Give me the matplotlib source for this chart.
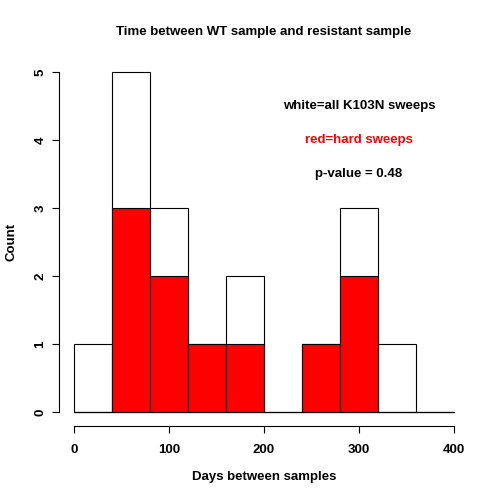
import matplotlib
matplotlib.use("Agg")
import matplotlib.pyplot as plt
import numpy as np

plt.rcParams['font.family'] = ['Liberation Sans', 'DejaVu Sans']

# bins of 40 days
bin_edges = [0, 40, 80, 120, 160, 200, 240, 280, 320, 360, 400]
all_counts = [1, 5, 3, 1, 2, 0, 1, 3, 1, 0]   # white = all K103N sweeps
hard_counts = [0, 3, 2, 1, 1, 0, 1, 2, 0, 0]  # red = hard sweeps
y_ticks = [0, 1, 2, 3, 4, 5]
x_ticks = [0, 100, 200, 300, 400]

fig = plt.figure(figsize=(5, 5), dpi=100)
ax = fig.add_axes([0.1176, 0.1482, 0.8208, 0.7346])

lefts = np.array(bin_edges[:-1])
widths = np.diff(bin_edges)
ax.bar(lefts, all_counts, width=widths, align="edge", color="white", edgecolor="black", lw=0.8)
ax.bar(lefts, hard_counts, width=widths, align="edge", color="red", edgecolor="black", lw=0.8)
# zero-height bins still show their base line
ax.hlines(0, bin_edges[0], bin_edges[-1], color="black", lw=0.8)

ax.set_xlim(-16, 416)
ax.set_ylim(-0.2, 5.2)
for s in ["top", "right"]:
    ax.spines[s].set_visible(False)
ax.spines["left"].set_bounds(0, 5)
ax.spines["bottom"].set_bounds(0, 400)
ax.spines["left"].set_linewidth(0.8)
ax.spines["bottom"].set_linewidth(0.8)
ax.set_xticks(x_ticks)
ax.set_yticks(y_ticks)
ax.set_yticklabels([str(t) for t in y_ticks], rotation=90, va="center")
ax.tick_params(length=5, width=0.8, labelsize=9.5)
ax.tick_params(axis="x", pad=8)
ax.tick_params(axis="y", pad=4)
for lab in ax.get_xticklabels() + ax.get_yticklabels():
    lab.set_fontweight("bold")

ax.set_title("Time between WT sample and resistant sample", fontsize=9.5, fontweight="bold", pad=17)
ax.set_xlabel("Days between samples", fontsize=9.5, fontweight="bold", labelpad=11)
ax.set_ylabel("Count", fontsize=9.5, fontweight="bold", labelpad=12)

ax.text(300, 4.5, "white=all K103N sweeps", ha="center", va="center", fontsize=9.5, fontweight="bold")
ax.text(300, 4.0, "red=hard sweeps", ha="center", va="center", fontsize=9.5, fontweight="bold", color="red")
ax.text(300, 3.5, "p-value = 0.48", ha="center", va="center", fontsize=9.5, fontweight="bold")

fig.savefig("out.png", dpi=100)
